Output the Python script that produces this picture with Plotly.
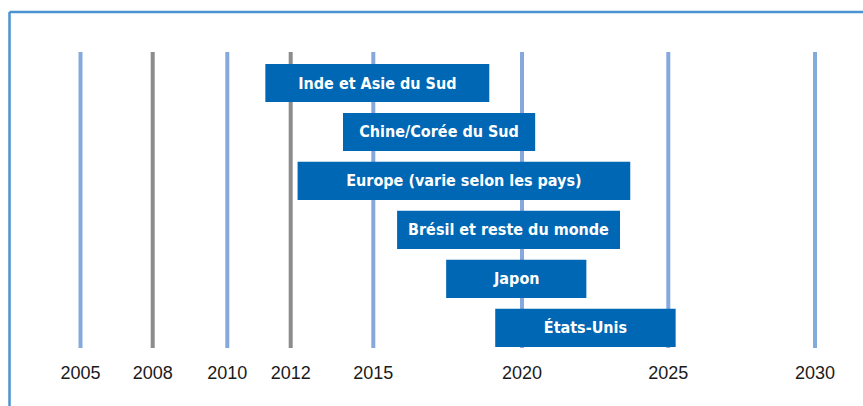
import numpy as np
import plotly.graph_objects as go

# ---- data ----
regions = ["Inde et Asie du Sud", "Chine/Corée du Sud", "Europe (varie selon les pays)",
           "Brésil et reste du monde", "Japon", "États-Unis"]
start_year = [2011.2, 2013.9, 2012.25, 2015.8, 2017.45, 2019.1]
end_year = [2018.9, 2020.45, 2023.7, 2023.35, 2022.2, 2025.25]
tick_years = [2005, 2008, 2010, 2012, 2015, 2020, 2025, 2030]
tick_labels = ["2005", "2008", "2010", "2012", "2015", "2020", "2025", "2030"]

# ---- layout (non-linear timeline scale as drawn) ----
W, H = 863, 406
tick_pos = [80.5, 152.7, 227.3, 290.7, 373.3, 522.0, 668.3, 815.0]
line_colors = ["#86a9dd", "#8c8c8c", "#86a9dd", "#8c8c8c", "#86a9dd", "#86a9dd", "#86a9dd", "#86a9dd"]

def to_pos(y):
    return np.interp(y, tick_years, tick_pos)

x0 = to_pos(start_year)
x1 = to_pos(end_year)

fig = go.Figure(go.Bar(
    y=regions, x=x1 - x0, base=x0, orientation="h",
    marker=dict(color="#0067b4", line=dict(width=0)),
    text=regions, textposition="inside", insidetextanchor="middle",
    textfont=dict(family="DejaVu Sans Condensed", size=16, color="white", weight="bold"),
    hoverinfo="skip",
))

shapes = []
for p, c in zip(tick_pos, line_colors):
    shapes.append(dict(type="line", xref="x", yref="paper", x0=p, x1=p, y0=0, y1=1,
                       line=dict(color=c, width=4), layer="below"))
# frame (top and left edges)
shapes.append(dict(type="line", xref="paper", yref="paper", x0=9.5 / W, x1=1.01,
                   y0=1.135, y1=1.135, line=dict(color="#4a93d0", width=2.5)))
shapes.append(dict(type="line", xref="paper", yref="paper", x0=9.5 / W, x1=9.5 / W,
                   y0=-0.25, y1=1.135, line=dict(color="#4a93d0", width=2.5)))

fig.update_layout(
    width=W, height=H,
    margin=dict(l=0, r=0, t=52, b=58),
    paper_bgcolor="white", plot_bgcolor="white",
    showlegend=False, bargap=0.22,
    shapes=shapes,
    xaxis=dict(range=[0, W], tickvals=tick_pos, ticktext=tick_labels,
               showgrid=False, zeroline=False, showline=False,
               ticks="outside", ticklen=8, tickcolor="rgba(0,0,0,0)",
               tickfont=dict(family="Liberation Sans", size=18, color="#1a1a1a")),
    yaxis=dict(type="category", categoryorder="array", categoryarray=regions,
               range=[5.41, -0.633], showticklabels=False, showgrid=False,
               zeroline=False, showline=False),
)

fig.write_html("out.html", config={"displayModeBar": False},
               post_script="document.body.style.margin='0';")
